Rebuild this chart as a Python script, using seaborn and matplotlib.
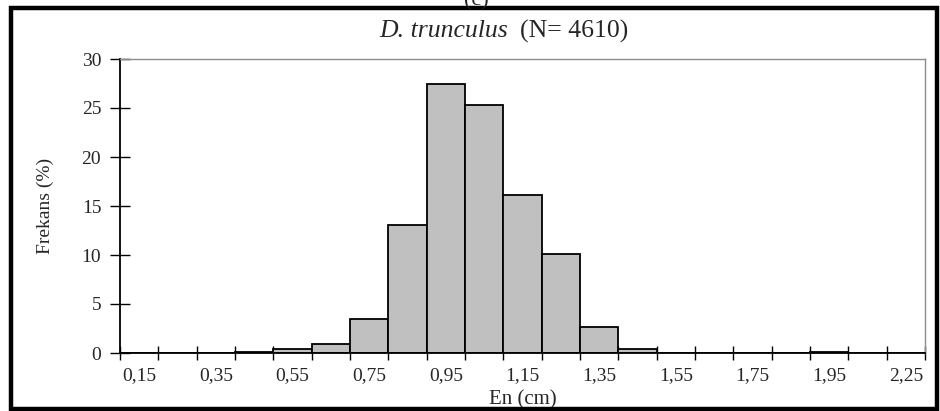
import matplotlib
matplotlib.use("Agg")
import matplotlib.pyplot as plt
from matplotlib.patches import Rectangle
from matplotlib.ticker import FixedLocator
import seaborn as sns
import pandas as pd

# Length classes (cm, class midpoints) and their share of the sample (%)
classes = ["0,15", "0,25", "0,35", "0,45", "0,55", "0,65", "0,75", "0,85", "0,95", "1,05",
           "1,15", "1,25", "1,35", "1,45", "1,55", "1,65", "1,75", "1,85", "1,95", "2,05", "2,25"]
frequency = [0.0, 0.0, 0.0, 0.15, 0.4, 0.95, 3.45, 13.1, 27.5, 25.3,
             16.1, 10.1, 2.7, 0.4, 0.0, 0.0, 0.0, 0.0, 0.15, 0.0, 0.0]
y_ticks = [0, 5, 10, 15, 20, 25, 30]
species = "D. trunculus"
sample_size = 4610
panel = "(c)"

sns.set_theme(style="white")
plt.rcParams["font.family"] = ["Liberation Serif", "DejaVu Serif"]

df = pd.DataFrame({"class": classes, "freq": frequency})

W, H = 940, 411
fig = plt.figure(figsize=(W / 100, H / 100), dpi=100)
ax = fig.add_axes([120 / W, 1 - 353 / H, 805 / W, 294 / H])

sns.barplot(data=df, x="class", y="freq", order=classes, color="#C0C0C0",
            saturation=1, width=1.0, edgecolor="black", linewidth=1.3, ax=ax)

ax.set_xlim(-0.5, len(classes) - 0.5)
ax.set_ylim(0, 30)

# labels on every other class, tick marks on class boundaries
ax.set_xticks(range(0, len(classes), 2))
ax.set_xticklabels(classes[::2], fontsize=14)
ax.xaxis.set_minor_locator(FixedLocator([i - 0.5 for i in range(len(classes) + 1)]))
ax.tick_params(axis="x", which="major", length=0, pad=10.5)
ax.tick_params(axis="x", which="minor", bottom=True, length=10, width=1.0,
               direction="inout", color="black")

ax.set_yticks(y_ticks)
ax.set_yticklabels([str(v) for v in y_ticks], fontsize=14)
ax.tick_params(axis="y", which="major", left=True, length=15, width=1.0,
               direction="inout", color="black", pad=6)

for side in ("left", "bottom"):
    ax.spines[side].set_color("black")
    ax.spines[side].set_linewidth(1.3)
for side in ("top", "right"):
    ax.spines[side].set_color("#8c8c8c")
    ax.spines[side].set_linewidth(1.0)
ax.set_facecolor("white")

ax.set_xlabel("En (cm)", fontsize=15)
ax.xaxis.set_label_coords(0.5, -0.125)
ax.set_ylabel("Frekans (%)", fontsize=14)
ax.yaxis.set_label_coords(-0.082, 0.5)

# chart title: italic species name followed by sample size, centred as one line
ty = 1 - 31 / H
t1 = fig.text(0, ty, species, fontsize=18.5, style="italic", ha="left", va="center")
t2 = fig.text(0, ty, f"(N= {sample_size})", fontsize=18.5, ha="left", va="center")
fig.canvas.draw()
w1 = t1.get_window_extent().width
w2 = t2.get_window_extent().width
gap = 12
x0 = 504 - (w1 + gap + w2) / 2
t1.set_x(x0 / W)
t2.set_x((x0 + w1 + gap) / W)

fig.text(476 / W, 1 - 5 / H, panel, fontsize=16, ha="center", va="baseline")

fig.patches.append(Rectangle((11 / W, 2 / H), 926 / W, 401 / H,
                             transform=fig.transFigure, fill=False,
                             edgecolor="black", linewidth=3.2))

fig.savefig("out.png", dpi=100)
